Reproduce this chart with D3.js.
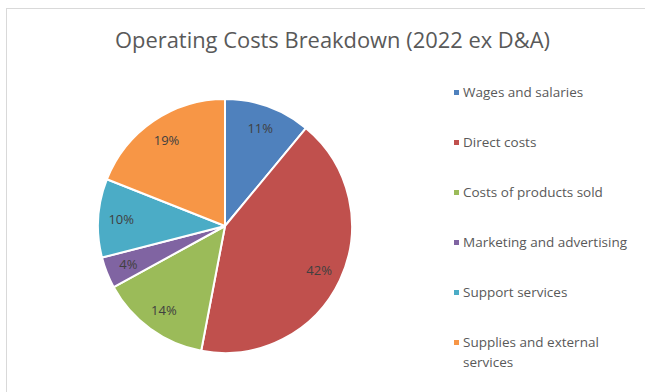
<!DOCTYPE html>
<html>
<head>
<meta charset="utf-8">
<script src="https://cdn.jsdelivr.net/npm/d3@7/dist/d3.min.js"></script>
<style>
  html, body { margin: 0; padding: 0; background: #fff; }
  svg { display: block; }
</style>
</head>
<body>
<svg id="chart" width="645" height="392"></svg>
<script>
// Operating cost categories and their shares (%)
const categories = [
  "Wages and salaries",
  "Direct costs",
  "Costs of products sold",
  "Marketing and advertising",
  "Support services",
  "Supplies and external services"
];
const shares = [11, 42, 14, 4, 10, 19];
const colors = ["#4F81BD", "#C0504D", "#9BBB59", "#8064A2", "#4BACC6", "#F79646"];
const titleText = "Operating Costs Breakdown (2022 ex D&A)";

const svg = d3.select("#chart");
const W = 645, H = 392;
const font = "'Open Sans', 'Noto Sans', sans-serif";

// chart area frame
svg.append("rect")
  .attr("x", 6.5).attr("y", 8.5)
  .attr("width", W).attr("height", H)
  .attr("fill", "#fff")
  .attr("stroke", "#d9d9d9").attr("stroke-width", 1);

// title
svg.append("text")
  .attr("x", 332.5).attr("y", 48)
  .attr("text-anchor", "middle")
  .attr("font-family", font)
  .attr("font-size", 22)
  .attr("fill", "#595959")
  .attr("textLength", 435)
  .attr("lengthAdjust", "spacingAndGlyphs")
  .text(titleText);

// pie
const cx = 225, cy = 226, R = 127;
const data = categories.map((c, i) => ({ name: c, value: shares[i], color: colors[i] }));
const pie = d3.pie().value(d => d.value).sort(null);
const arc = d3.arc().innerRadius(0).outerRadius(R);
const labelArc = d3.arc().innerRadius(104).outerRadius(104);

const g = svg.append("g").attr("transform", `translate(${cx},${cy})`);
const arcs = pie(data);

g.selectAll("path.slice")
  .data(arcs)
  .join("path")
  .attr("class", "slice")
  .attr("d", arc)
  .attr("fill", d => d.data.color)
  .attr("stroke", "#fff")
  .attr("stroke-width", 2)
  .attr("stroke-linejoin", "round");

g.selectAll("text.pct")
  .data(arcs)
  .join("text")
  .attr("class", "pct")
  .attr("transform", d => `translate(${labelArc.centroid(d)})`)
  .attr("text-anchor", "middle")
  .attr("dy", "0.35em")
  .attr("font-family", font)
  .attr("font-size", 13)
  .attr("fill", "#404040")
  .text(d => d.data.value + "%");

// legend
const legendX = 454, legendY0 = 92, legendStep = 50;
const lg = svg.append("g");
data.forEach((d, i) => {
  const y = legendY0 + i * legendStep;
  lg.append("rect")
    .attr("x", legendX).attr("y", y - 2)
    .attr("width", 5).attr("height", 5)
    .attr("fill", d.color);
  const lines = d.name === "Supplies and external services"
    ? ["Supplies and external", "services"] : [d.name];
  const t = lg.append("text")
    .attr("font-family", font)
    .attr("font-size", 13.5)
    .attr("fill", "#595959");
  lines.forEach((ln, k) => {
    t.append("tspan")
      .attr("x", legendX + 9)
      .attr("y", y + 5 + k * 20)
      .text(ln);
  });
});
</script>
</body>
</html>
